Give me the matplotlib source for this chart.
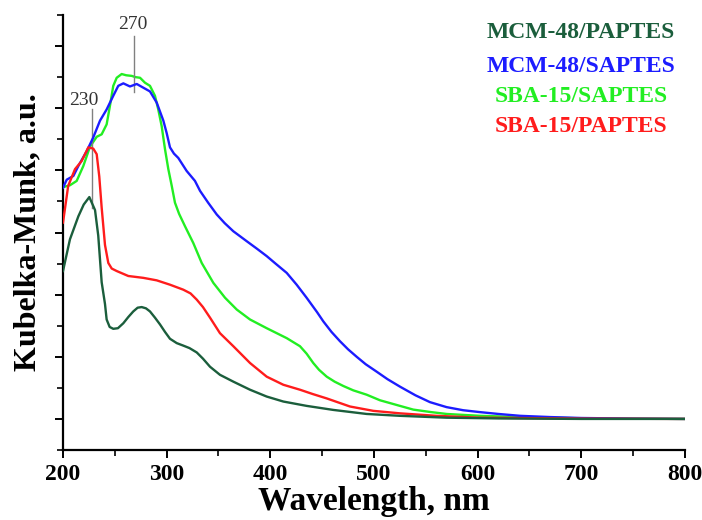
import numpy as np
import matplotlib
matplotlib.use("Agg")
import matplotlib.pyplot as plt
from matplotlib.ticker import MultipleLocator, NullFormatter

# MCM-48/PAPTES (dark green)
wl_mp = [200, 206.7, 214.8, 220, 225.4, 230.9, 234, 237.3, 240.5, 242.1, 245, 248.5,
         253, 258.2, 263, 267.8, 272, 275.9, 280, 283.9, 288.7, 293.6, 298.4, 303.2,
         309.7, 316, 322, 329, 335, 341.8, 351.4, 364.3, 380.4, 396.5, 412.5, 435,
         460.7, 492.9, 525, 570, 620, 700, 800]
km_mp = [2.38, 2.89, 3.26, 3.45, 3.57, 3.36, 2.95, 2.20, 1.85, 1.60, 1.48, 1.45,
         1.46, 1.54, 1.64, 1.73, 1.79, 1.80, 1.78, 1.73, 1.63, 1.52, 1.40, 1.29,
         1.22, 1.18, 1.14, 1.07, 0.97, 0.84, 0.71, 0.60, 0.47, 0.36, 0.28, 0.21,
         0.145, 0.08, 0.05, 0.02, 0.008, 0.0, 0.0]

# MCM-48/SAPTES (blue)
wl_ms = [200, 203.6, 210, 214.8, 222.9, 229.2, 235.7, 242.1, 248.5, 253.3, 258.2,
         264.6, 271.1, 277.5, 283.9, 290.4, 296.8, 300, 303.2, 307, 311.2, 319.3,
         327.3, 332.2, 340, 348.3, 356, 364.3, 377.2, 387, 396.5, 405, 415.8, 425.4,
         435, 445, 451.1, 459, 467.2, 475, 483.3, 492, 502.6, 513, 525, 540, 554,
         570, 586, 602, 620, 641, 670, 700, 750, 800]
km_ms = [3.72, 3.85, 3.91, 4.07, 4.31, 4.53, 4.80, 4.98, 5.20, 5.36, 5.40,
         5.35, 5.39, 5.33, 5.27, 5.09, 4.80, 4.60, 4.37, 4.27, 4.20, 3.99,
         3.83, 3.67, 3.48, 3.29, 3.15, 3.02, 2.86, 2.74, 2.62, 2.50, 2.35, 2.16,
         1.95, 1.72, 1.57, 1.40, 1.25, 1.12, 1.00, 0.88, 0.76, 0.64, 0.52, 0.38, 0.27,
         0.19, 0.14, 0.11, 0.08, 0.05, 0.03, 0.015, 0.005, 0.0]

# SBA-15/SAPTES (green)
wl_ss = [200, 206.7, 213.2, 219.6, 226, 232.5, 237.3, 242.1, 245.3, 248.5, 251.8,
         256.6, 261, 266.3, 270, 274.3, 279.1, 283.9, 288.7, 291.9, 295.2, 298.4,
         301.6, 304.9, 308, 312, 317.7, 325.7, 333.8, 345, 356.3, 367.6, 380.4,
         396.5, 415.8, 428.6, 435, 441.4, 447, 454.4, 462, 470.4, 480, 492.9, 505.8,
         525, 537.9, 555, 570, 602, 641, 700, 800]
km_ss = [3.73, 3.76, 3.83, 4.07, 4.38, 4.54, 4.58, 4.74, 5.04, 5.36, 5.49,
         5.55, 5.53, 5.52, 5.50, 5.49, 5.41, 5.36, 5.20, 4.98, 4.71, 4.34,
         4.02, 3.75, 3.48, 3.30, 3.10, 2.83, 2.51, 2.19, 1.95, 1.76, 1.60,
         1.46, 1.30, 1.17, 1.05, 0.90, 0.79, 0.68, 0.60, 0.53, 0.46, 0.39, 0.30,
         0.21, 0.15, 0.11, 0.08, 0.05, 0.03, 0.01, 0.0]

# SBA-15/PAPTES (red)
wl_sp = [200, 205, 211.6, 218, 224.4, 229.2, 232.5, 235, 237.3, 238.9, 240.5, 243.7,
         247, 251.8, 263, 277.5, 290.4, 303.2, 316, 323, 329, 335, 341.8, 351.4,
         364.3, 380.4, 396.5, 412.5, 428.6, 441, 454.4, 476.8, 499.3, 525, 560, 602,
         700, 800]
km_sp = [3.16, 3.75, 4.02, 4.15, 4.37, 4.35, 4.26, 3.90, 3.40, 3.10, 2.80, 2.51,
         2.42, 2.38, 2.30, 2.27, 2.23, 2.16, 2.08, 2.02, 1.92, 1.80, 1.63, 1.38,
         1.17, 0.90, 0.68, 0.55, 0.47, 0.40, 0.33, 0.20, 0.13, 0.09, 0.05, 0.02,
         0.005, 0.0]

labels = ["MCM-48/PAPTES", "MCM-48/SAPTES", "SBA-15/SAPTES", "SBA-15/PAPTES"]
colors = ["#1b5e3c", "#1c1cff", "#22ee22", "#ff1c1c"]

fig = plt.figure(figsize=(7.02, 5.2), dpi=100)
ax = fig.add_axes([63 / 702, 70 / 520, 622 / 702, 435 / 520])

ax.plot(wl_ss, km_ss, color=colors[2], lw=1.7, zorder=2)
ax.plot(wl_ms, km_ms, color=colors[1], lw=1.7, zorder=3)
ax.plot(wl_sp, km_sp, color=colors[3], lw=1.7, zorder=4)
ax.plot(wl_mp, km_mp, color=colors[0], lw=1.7, zorder=5)

ax.set_xlim(200, 800)
ax.set_ylim(-0.5, 6.5)
ax.spines["top"].set_visible(False)
ax.spines["right"].set_visible(False)
for s in ("left", "bottom"):
    ax.spines[s].set_linewidth(1.6)
ax.xaxis.set_major_locator(MultipleLocator(100))
ax.xaxis.set_minor_locator(MultipleLocator(50))
ax.yaxis.set_major_locator(MultipleLocator(1))
ax.yaxis.set_minor_locator(MultipleLocator(0.5))
ax.yaxis.set_major_formatter(NullFormatter())
ax.tick_params(which="major", direction="out", length=6, width=1.4)
ax.tick_params(which="minor", direction="out", length=4, width=1.2)
ax.tick_params(axis="x", pad=4)
for lab in ax.get_xticklabels():
    lab.set_fontfamily("Liberation Serif")
    lab.set_fontweight("bold")
    lab.set_fontsize(17)

ax.set_xlabel("Wavelength, nm", family="Liberation Serif", weight="bold", fontsize=24, labelpad=1)
ax.set_ylabel("Kubelka-Munk, a.u.", family="Liberation Serif", weight="bold", fontsize=23, labelpad=5)

# peak markers
ax.plot([227.7, 227.7], [3.39, 4.98], color="#808080", lw=1)
ax.text(220, 5.12, "230", ha="center", va="center", fontsize=14, color="#333333", family="Liberation Serif")
ax.plot([268.5, 268.5], [5.26, 6.16], color="#808080", lw=1)
ax.text(267.5, 6.34, "270", ha="center", va="center", fontsize=14, color="#333333", family="Liberation Serif")

for lab, col, py in zip(labels, colors, [33, 66, 97, 126]):
    fig.text(581 / 702, 1 - py / 520, lab, ha="center", va="center", color=col,
             fontsize=17, weight="bold", family="Liberation Serif")

fig.savefig("out.png", dpi=100)
